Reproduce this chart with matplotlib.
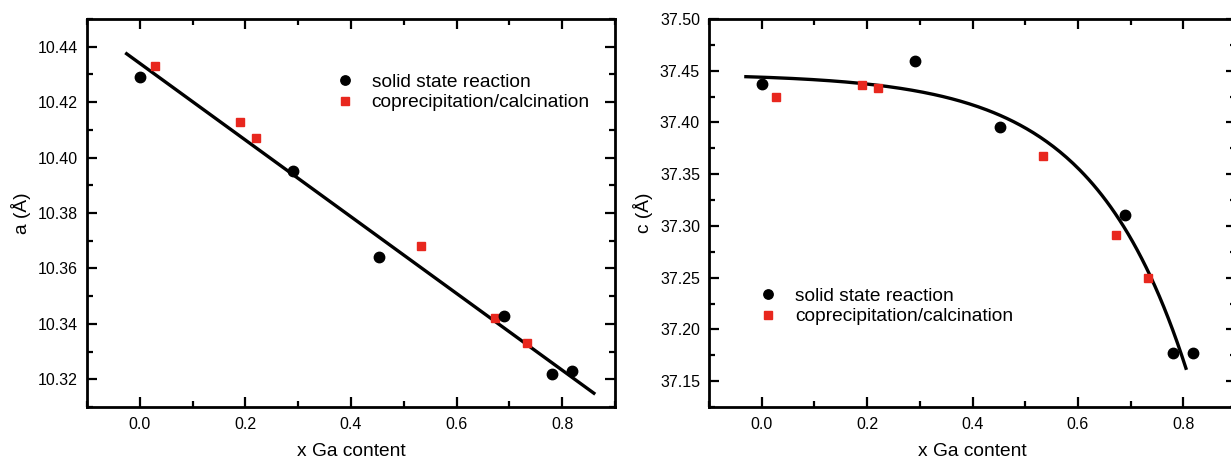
import numpy as np
import matplotlib
matplotlib.use("Agg")
import matplotlib.pyplot as plt
from matplotlib.ticker import MultipleLocator, FormatStrFormatter

plt.rcParams['font.family'] = ['Liberation Sans', 'DejaVu Sans']

# ---- data ----
ssr_x = [0.0, 0.29, 0.453, 0.69, 0.78, 0.818]
ssr_a = [10.429, 10.395, 10.364, 10.343, 10.322, 10.323]
ssr_c = [37.437, 37.459, 37.396, 37.311, 37.177, 37.177]

cop_x = [0.028, 0.19, 0.22, 0.533, 0.673, 0.733]
cop_a = [10.433, 10.413, 10.407, 10.368, 10.342, 10.333]
cop_c = [37.425, 37.436, 37.433, 37.368, 37.291, 37.250]

# linear fit for a
a_fit_range = [-0.025, 0.86]
a_fit_intercept = 10.434
a_fit_slope = -0.1384

# exponential fit for c: c = A - B*exp(x/t)
c_fit_range = [-0.03, 0.805]
c_fit_A = 37.447
c_fit_B = 0.00325
c_fit_t = 0.18

labels = ["solid state reaction", "coprecipitation/calcination"]

W, H = 1231, 458
fig = plt.figure(figsize=(W / 100, H / 100), dpi=100)

ax1 = fig.add_axes([87 / W, 1 - 407 / H, (615 - 87) / W, (407 - 19) / H])
ax2 = fig.add_axes([709 / W, 1 - 407 / H, (1236 - 709) / W, (407 - 19) / H])

red = '#e8271e'
FS = 13.8

def style(ax):
    for s in ax.spines.values():
        s.set_linewidth(2)
    ax.tick_params(which='both', direction='in', top=True, right=True, width=1.6, labelsize=11.5)
    ax.tick_params(which='major', length=7)
    ax.tick_params(which='minor', length=4)
    ax.tick_params(axis='x', which='both', pad=7)
    ax.tick_params(axis='y', which='both', pad=6.5)
    ax.xaxis.set_major_locator(MultipleLocator(0.2))
    ax.xaxis.set_minor_locator(MultipleLocator(0.1))
    ax.set_xlim(-0.1, 0.9)
    ax.set_xlabel("x Ga content", fontsize=FS, labelpad=8)

def legend(ax, anchor):
    ax.legend(loc='center left', bbox_to_anchor=anchor, frameon=False, fontsize=FS,
              handletextpad=0.9, labelspacing=0.15, handlelength=1.0, borderpad=0,
              borderaxespad=0, markerscale=0.9)

# left panel
xs = np.linspace(a_fit_range[0], a_fit_range[1], 50)
ax1.plot(xs, a_fit_intercept + a_fit_slope * xs, color='black', lw=2.4, zorder=1)
ax1.plot(ssr_x, ssr_a, 'o', color='black', ms=7.5, label=labels[0], zorder=3)
ax1.plot(cop_x, cop_a, 's', color=red, ms=6.3, label=labels[1], zorder=2)
style(ax1)
ax1.set_ylim(10.31, 10.45)
ax1.yaxis.set_major_locator(MultipleLocator(0.02))
ax1.yaxis.set_minor_locator(MultipleLocator(0.01))
ax1.yaxis.set_major_formatter(FormatStrFormatter('%.2f'))
ax1.set_ylabel("a (Å)", fontsize=FS, labelpad=5)
legend(ax1, (0.470, 0.8106))

# right panel
xc = np.linspace(c_fit_range[0], c_fit_range[1], 200)
ax2.plot(xc, c_fit_A - c_fit_B * np.exp(xc / c_fit_t), color='black', lw=2.4, zorder=1)
ax2.plot(ssr_x, ssr_c, 'o', color='black', ms=7.5, label=labels[0], zorder=3)
ax2.plot(cop_x, cop_c, 's', color=red, ms=6.3, label=labels[1], zorder=2)
style(ax2)
ax2.set_ylim(37.125, 37.50)
ax2.yaxis.set_major_locator(MultipleLocator(0.05))
ax2.yaxis.set_minor_locator(MultipleLocator(0.025))
ax2.yaxis.set_major_formatter(FormatStrFormatter('%.2f'))
ax2.set_ylabel("c (Å)", fontsize=FS, labelpad=5)
legend(ax2, (0.0937, 0.259))

fig.savefig("out.png", dpi=100)
